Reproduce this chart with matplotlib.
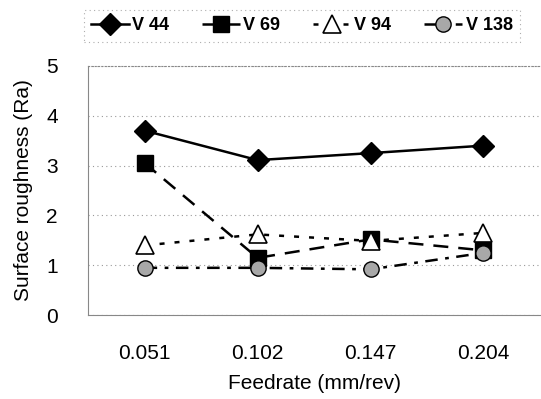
import matplotlib.pyplot as plt

feedrates = ["0.051", "0.102", "0.147", "0.204"]
v44 = [3.70, 3.11, 3.25, 3.40]
v69 = [3.05, 1.15, 1.52, 1.30]
v94 = [1.40, 1.62, 1.49, 1.65]
v138 = [0.95, 0.95, 0.92, 1.25]

plt.rcParams["font.family"] = ["Liberation Sans", "DejaVu Sans"]

fig = plt.figure(figsize=(5.41, 3.99), dpi=100)
ax = fig.add_axes([0.163, 0.21, 0.835, 0.625])
x = range(len(feedrates))

ax.plot(x, v44, color="black", lw=1.8, ls="-", marker="D", ms=11,
        mfc="black", mec="black", label="V 44", zorder=4)
ax.plot(x, v69, color="black", lw=1.8, ls=(0, (6, 4)), marker="s", ms=12,
        mfc="black", mec="black", label="V 69", zorder=3)
ax.plot(x, v94, color="black", lw=1.8, ls=(0, (2, 4)), marker="^", ms=13,
        mfc="white", mec="black", mew=1.2, label="V 94", zorder=5)
ax.plot(x, v138, color="black", lw=1.8, ls=(0, (5, 3, 1.5, 3)), marker="o", ms=11,
        mfc="#a8a8a8", mec="black", mew=1.0, label="V 138", zorder=6)

ax.set_xlim(-0.5, 3.5)
ax.set_ylim(0, 5)
ax.set_xticks(list(x))
ax.set_xticklabels(feedrates)
ax.set_yticks(range(6))
ax.tick_params(labelsize=15, length=0)
ax.tick_params(axis="x", pad=21)
ax.tick_params(axis="y", pad=22)
ax.yaxis.grid(True, color="#999999", ls=(0, (1, 3)), lw=0.8)
ax.set_axisbelow(True)
for s in ["left", "bottom", "top"]:
    ax.spines[s].set_color("#888888")
    ax.spines[s].set_linewidth(0.8)
ax.spines["top"].set_linestyle((0, (1, 2)))
ax.spines["right"].set_visible(False)

ax.set_xlabel("Feedrate (mm/rev)", fontsize=15, labelpad=8)
ax.set_ylabel("Surface roughness (Ra)", fontsize=15, labelpad=9)

leg = fig.legend(loc="upper left", bbox_to_anchor=(0.138, 0.997), ncol=4,
                 fontsize=13, frameon=True, handlelength=2.1, columnspacing=1.8,
                 handletextpad=0.2, borderpad=0.4, fancybox=False)
leg.get_frame().set_edgecolor("#999999")
leg.get_frame().set_linestyle((0, (1, 3)))
leg.get_frame().set_linewidth(0.8)
for t in leg.get_texts():
    t.set_fontweight("bold")

fig.savefig("out.png", dpi=100)
